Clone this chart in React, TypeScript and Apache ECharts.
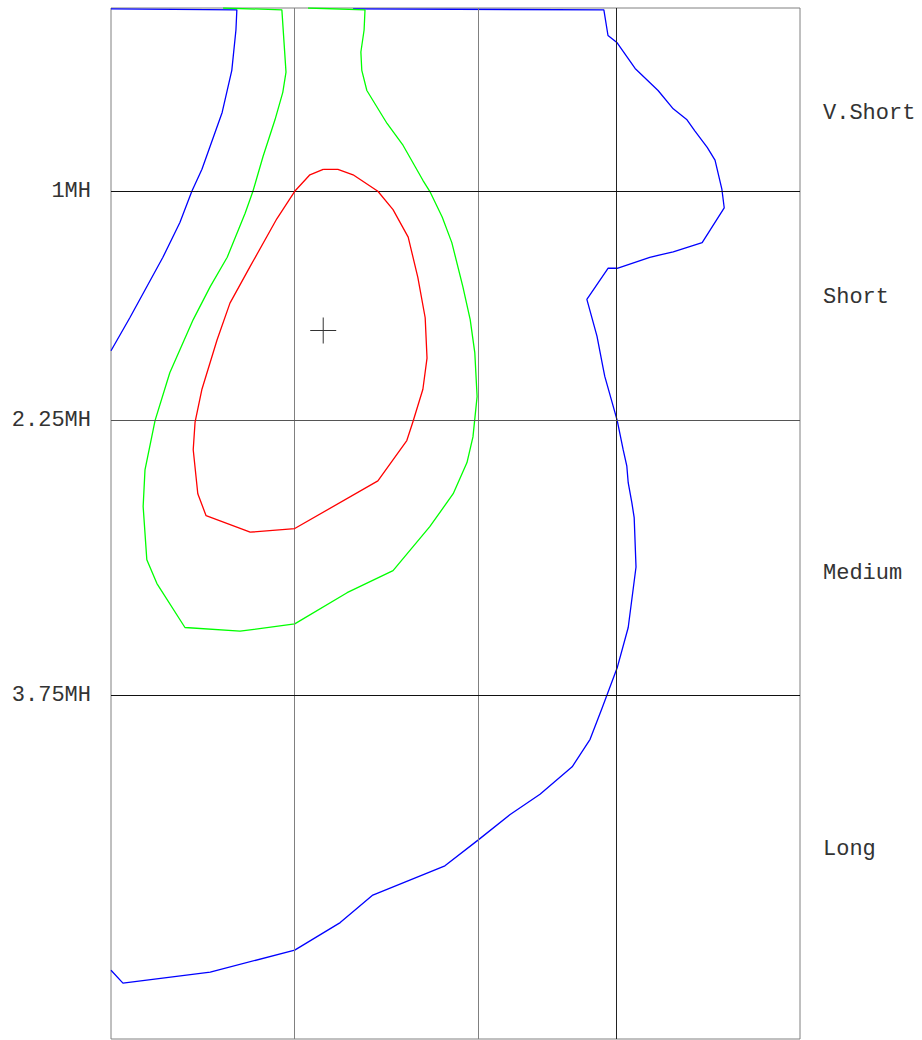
import React, { useEffect, useRef } from "react";
import * as echarts from "echarts";

// Contour polylines, [x, y] in axis units (x: 0..15, y: 0..5.625 MH, downward)
const redContour: number[][] = [
  [4.62, 0.88], [4.94, 0.88], [5.27, 0.91], [5.81, 1.0], [6.14, 1.1], [6.47, 1.25],
  [6.68, 1.47], [6.84, 1.69], [6.88, 1.91], [6.79, 2.08], [6.57, 2.26], [6.44, 2.36],
  [5.81, 2.58], [4.0, 2.84], [3.03, 2.86], [2.07, 2.77], [1.89, 2.65], [1.79, 2.41],
  [1.83, 2.26], [1.98, 2.08], [2.31, 1.81], [2.59, 1.61], [3.03, 1.41], [3.61, 1.15],
  [4.0, 1.0], [4.33, 0.91], [4.62, 0.88],
];

const greenContour: number[][] = [
  [2.44, 0.0], [3.72, 0.01], [3.81, 0.35], [3.74, 0.46], [3.57, 0.61], [3.31, 0.81],
  [3.09, 1.0], [2.92, 1.12], [2.53, 1.36], [2.16, 1.52], [1.79, 1.7], [1.28, 1.99],
  [0.96, 2.25], [0.74, 2.52], [0.7, 2.72], [0.78, 3.01], [1.0, 3.14], [1.61, 3.38],
  [2.81, 3.4], [4.0, 3.36], [5.14, 3.19], [6.14, 3.07], [6.94, 2.83], [7.45, 2.65],
  [7.75, 2.48], [7.88, 2.34], [7.97, 2.12], [7.92, 1.88], [7.82, 1.7], [7.66, 1.52],
  [7.42, 1.28], [7.21, 1.14], [6.94, 1.0], [6.79, 0.94], [6.36, 0.75], [6.01, 0.63],
  [5.57, 0.45], [5.46, 0.34], [5.44, 0.24], [5.51, 0.12], [5.53, 0.01], [4.29, 0.0],
];

const blueContourUpper: number[][] = [
  [0, 0.005], [2.74, 0.01], [2.72, 0.12], [2.63, 0.34], [2.42, 0.57], [1.98, 0.88],
  [1.76, 1.0], [1.5, 1.17], [1.13, 1.36], [0.41, 1.69], [0, 1.87],
];

const blueContourLower: number[][] = [
  [0, 5.25], [0.26, 5.32], [2.16, 5.26], [4.0, 5.14], [4.99, 4.99], [5.7, 4.84],
  [7.27, 4.68], [7.99, 4.54], [8.69, 4.4], [9.34, 4.29], [10.04, 4.14], [10.43, 3.99],
  [10.69, 3.82], [11.02, 3.6], [11.26, 3.38], [11.43, 3.05], [11.39, 2.78], [11.34, 2.7],
  [11.26, 2.59], [11.23, 2.5], [11.15, 2.41], [11.02, 2.25], [10.75, 2.01], [10.71, 1.96],
  [10.58, 1.79], [10.36, 1.59], [10.82, 1.42], [11.02, 1.42], [11.73, 1.36], [12.24, 1.33],
  [12.87, 1.28], [13.35, 1.09], [13.3, 0.99], [13.15, 0.83], [12.98, 0.76], [12.71, 0.67],
  [12.54, 0.61], [12.24, 0.55], [11.91, 0.45], [11.41, 0.33], [11.02, 0.19], [10.82, 0.15],
  [10.73, 0.01], [5.27, 0.005],
];

const centerMark: number[][] = [[4.62, 1.76]];

const xGridValues = [4, 8, 11];
const xGridColors = ["#808080", "#808080", "#222222"];
const yTickValues = [1, 2.25, 3.75];
const yTickLabels = ["1MH", "2.25MH", "3.75MH"];
const yGridColors = ["#111111", "#555555", "#111111"];
const bandLabels = ["V.Short", "Short", "Medium", "Long"];
const bandLabelPositions = [0.578, 1.582, 3.088, 4.592];

const X_MIN = 0;
const X_MAX = 15;
const Y_MIN = 0;
const Y_MAX = 5.625;

const FONT = "'Liberation Mono', 'DejaVu Sans Mono', monospace";

function lookup(values: number[], labels: string[], v: number): string {
  const i = values.findIndex((t) => Math.abs(t - v) < 1e-6);
  return i >= 0 ? labels[i] : "";
}

export default function App() {
  const ref = useRef<HTMLDivElement>(null);

  useEffect(() => {
    if (!ref.current) return;
    const chart = echarts.init(ref.current, null, { renderer: "svg" });

    const contourSeries = (data: number[][], color: string, z: number) => ({
      type: "line",
      data,
      showSymbol: false,
      symbol: "none",
      lineStyle: { color, width: 1.3 },
      silent: true,
      z,
      clip: true,
    });

    const gridMarks = [
      ...xGridValues.map((v, i) => ({ xAxis: v, lineStyle: { color: xGridColors[i], width: 1, type: "solid" } })),
      ...yTickValues.map((v, i) => ({ yAxis: v, lineStyle: { color: yGridColors[i], width: 1, type: "solid" } })),
    ];

    chart.setOption({
      animation: false,
      backgroundColor: "#ffffff",
      grid: {
        left: 111,
        top: 8,
        width: 689,
        height: 1031,
        show: true,
        borderColor: "#808080",
        borderWidth: 1,
        backgroundColor: "transparent",
      },
      xAxis: {
        type: "value",
        min: X_MIN,
        max: X_MAX,
        show: false,
        splitLine: { show: false },
      },
      yAxis: [
        {
          type: "value",
          min: Y_MIN,
          max: Y_MAX,
          inverse: true,
          axisLine: { show: false },
          axisTick: { show: false },
          splitLine: { show: false },
          axisLabel: {
            customValues: yTickValues,
            formatter: (v: number) => lookup(yTickValues, yTickLabels, v),
            fontFamily: FONT,
            fontSize: 22,
            color: "#333333",
            margin: 20,
          },
        },
        {
          type: "value",
          position: "right",
          min: Y_MIN,
          max: Y_MAX,
          inverse: true,
          axisLine: { show: false },
          axisTick: { show: false },
          splitLine: { show: false },
          axisLabel: {
            customValues: bandLabelPositions,
            formatter: (v: number) => lookup(bandLabelPositions, bandLabels, v),
            fontFamily: FONT,
            fontSize: 22,
            color: "#333333",
            margin: 23,
          },
        },
      ],
      series: [
        {
          type: "line",
          data: [],
          silent: true,
          z: 1,
          markLine: {
            silent: true,
            symbol: ["none", "none"],
            label: { show: false },
            animation: false,
            data: gridMarks,
          },
        },
        contourSeries(blueContourUpper, "#0000ff", 3),
        contourSeries(blueContourLower, "#0000ff", 3),
        contourSeries(greenContour, "#00ff00", 4),
        contourSeries(redContour, "#ff0000", 5),
        {
          type: "scatter",
          data: centerMark,
          symbol: "path://M0,12.5H26V13.5H0Z M12.5,0H13.5V26H12.5Z",
          symbolSize: 26,
          itemStyle: { color: "#000000" },
          silent: true,
          z: 6,
        },
      ],
    });

    return () => chart.dispose();
  }, []);

  return (
    <div
      ref={ref}
      style={{ position: "absolute", left: 0, top: 0, width: 922, height: 1040, background: "#fff" }}
    />
  );
}
